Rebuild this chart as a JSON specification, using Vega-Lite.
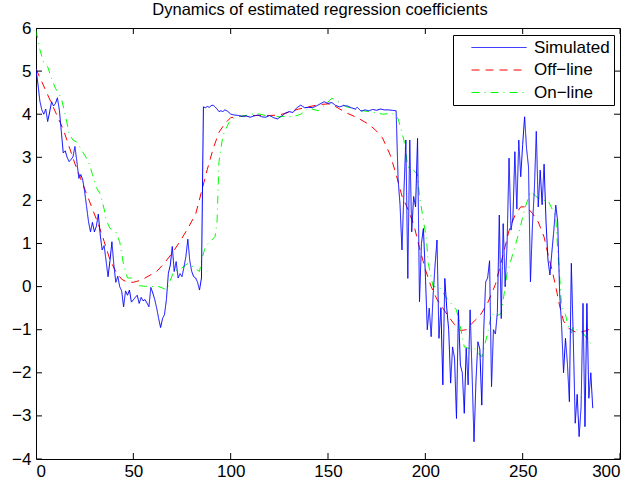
{
  "$schema": "https://vega.github.io/schema/vega-lite/v6.json",
  "width": 584,
  "height": 431,
  "autosize": "none",
  "padding": {"left": 36, "top": 28, "right": 17, "bottom": 30},
  "background": "white",
  "config": {
    "view": {"stroke": "black", "strokeWidth": 1},
    "font": "Liberation Sans",
    "axis": {"grid": false, "domain": false, "ticks": false, "labelColor": "black", "labelFontSize": 17, "labelFont": "Liberation Sans", "title": null}
  },
  "title": {"text": "Dynamics of estimated regression coefficients", "fontSize": 16.5, "fontWeight": "normal", "anchor": "middle", "offset": 1, "dx": -8, "color": "black", "font": "Liberation Sans"},
  "datasets": {
    "xt": [{"v":0},{"v":50},{"v":100},{"v":150},{"v":200},{"v":250},{"v":300}],
    "yt": [{"v":-4},{"v":-3},{"v":-2},{"v":-1},{"v":0},{"v":1},{"v":2},{"v":3},{"v":4},{"v":5},{"v":6}],
    "sim": [
      {"x":0,"y":5.05},{"x":1,"y":4.7},{"x":2,"y":4.3},{"x":3,"y":4.1},{"x":4,"y":4.0},{"x":5,"y":4.12},{"x":6,"y":3.83},{"x":7,"y":4.05},{"x":8,"y":4.29},{"x":9,"y":4.19},
      {"x":10,"y":4.25},{"x":11,"y":4.38},{"x":12,"y":4.1},{"x":13,"y":3.6},{"x":14,"y":3.1},{"x":15,"y":3.15},{"x":16,"y":3.0},{"x":17,"y":2.9},{"x":18,"y":2.95},{"x":19,"y":3.01},
      {"x":20,"y":3.25},{"x":21,"y":2.9},{"x":22,"y":2.51},{"x":23,"y":2.6},{"x":24,"y":2.48},{"x":25,"y":2.2},{"x":26,"y":1.85},{"x":27,"y":1.5},{"x":28,"y":1.27},{"x":29,"y":1.49},
      {"x":30,"y":1.27},{"x":31,"y":1.4},{"x":32,"y":1.68},{"x":33,"y":1.2},{"x":34,"y":0.85},{"x":35,"y":0.95},{"x":36,"y":0.6},{"x":37,"y":0.23},{"x":38,"y":0.6},{"x":39,"y":1.04},
      {"x":40,"y":0.5},{"x":41,"y":0.1},{"x":42,"y":0.24},{"x":43,"y":0.0},{"x":44,"y":-0.1},{"x":45,"y":-0.47},{"x":46,"y":-0.1},{"x":47,"y":-0.2},{"x":48,"y":-0.08},{"x":49,"y":-0.36},
      {"x":50,"y":-0.31},{"x":51,"y":-0.25},{"x":52,"y":-0.2},{"x":53,"y":-0.39},{"x":54,"y":-0.25},{"x":55,"y":-0.33},{"x":56,"y":-0.3},{"x":57,"y":-0.38},{"x":58,"y":-0.47},{"x":59,"y":-0.02},
      {"x":60,"y":-0.15},{"x":61,"y":-0.3},{"x":62,"y":-0.5},{"x":63,"y":-0.74},{"x":64,"y":-0.95},{"x":65,"y":-0.74},{"x":66,"y":-0.65},{"x":67,"y":-0.3},{"x":68,"y":0.31},{"x":69,"y":0.5},
      {"x":70,"y":0.93},{"x":71,"y":0.35},{"x":72,"y":0.58},{"x":73,"y":0.2},{"x":74,"y":0.3},{"x":75,"y":0.23},{"x":76,"y":0.45},{"x":77,"y":0.7},{"x":78,"y":1.1},{"x":79,"y":0.6},
      {"x":80,"y":0.35},{"x":81,"y":0.23},{"x":82,"y":0.2},{"x":83,"y":0.1},{"x":84,"y":-0.08},{"x":85,"y":0.2},{"x":86,"y":4.17},{"x":87,"y":4.15},{"x":88,"y":4.18},{"x":89,"y":4.16},
      {"x":90,"y":4.2},{"x":91,"y":4.21},{"x":92,"y":4.17},{"x":93,"y":4.12},{"x":94,"y":4.06},{"x":95,"y":4.08},{"x":96,"y":4.06},{"x":97,"y":4.1},{"x":98,"y":4.08},{"x":99,"y":4.05},
      {"x":100,"y":4.0},{"x":102,"y":3.98},{"x":104,"y":3.97},{"x":106,"y":3.95},{"x":108,"y":3.96},{"x":110,"y":3.93},{"x":112,"y":3.96},{"x":114,"y":3.98},{"x":116,"y":3.94},{"x":118,"y":3.93},
      {"x":120,"y":3.97},{"x":122,"y":3.92},{"x":124,"y":3.89},{"x":126,"y":3.95},{"x":128,"y":4.02},{"x":130,"y":4.06},{"x":132,"y":4.04},{"x":134,"y":4.15},{"x":136,"y":4.21},{"x":138,"y":4.15},
      {"x":140,"y":4.16},{"x":142,"y":4.15},{"x":144,"y":4.19},{"x":146,"y":4.24},{"x":148,"y":4.29},{"x":150,"y":4.25},{"x":152,"y":4.27},{"x":154,"y":4.2},{"x":156,"y":4.17},{"x":158,"y":4.2},
      {"x":160,"y":4.19},{"x":162,"y":4.15},{"x":164,"y":4.12},{"x":165,"y":4.16},{"x":167,"y":4.07},{"x":169,"y":4.1},{"x":171,"y":4.08},{"x":173,"y":4.11},{"x":175,"y":4.09},{"x":177,"y":4.12},
      {"x":179,"y":4.1},{"x":181,"y":4.1},{"x":183,"y":4.09},{"x":185,"y":4.08},{"x":186,"y":2.5},{"x":187,"y":1.9},{"x":188,"y":0.85},{"x":189,"y":2.2},{"x":190,"y":3.4},{"x":191,"y":0.19},
      {"x":192,"y":3.4},{"x":193,"y":1.27},{"x":194,"y":2.09},{"x":195,"y":1.85},{"x":196,"y":3.44},{"x":197,"y":-0.35},{"x":198,"y":1.0},{"x":199,"y":1.35},{"x":200,"y":0.3},{"x":201,"y":-1.0},
      {"x":202,"y":-0.5},{"x":203,"y":-1.16},{"x":204,"y":-0.2},{"x":205,"y":0.5},{"x":206,"y":1.08},{"x":207,"y":-1.2},{"x":208,"y":-0.49},{"x":209,"y":-2.28},{"x":210,"y":0.19},{"x":211,"y":-0.5},
      {"x":212,"y":-1.0},{"x":213,"y":-2.24},{"x":214,"y":-1.4},{"x":215,"y":-1.66},{"x":216,"y":-3.06},{"x":217,"y":-0.54},{"x":218,"y":-1.82},{"x":219,"y":-2.0},{"x":220,"y":-2.94},{"x":221,"y":-1.43},
      {"x":222,"y":-2.28},{"x":223,"y":-0.54},{"x":224,"y":-2.0},{"x":225,"y":-3.6},{"x":226,"y":-2.2},{"x":227,"y":-1.28},{"x":228,"y":-1.45},{"x":229,"y":-2.75},{"x":230,"y":-1.0},{"x":231,"y":0.11},
      {"x":232,"y":0.2},{"x":233,"y":0.6},{"x":234,"y":-2.32},{"x":235,"y":-1.0},{"x":236,"y":-1.1},{"x":237,"y":-0.6},{"x":238,"y":1.66},{"x":239,"y":-0.74},{"x":240,"y":1.46},{"x":241,"y":0.0},
      {"x":242,"y":1.0},{"x":243,"y":2.98},{"x":244,"y":1.31},{"x":245,"y":1.6},{"x":246,"y":3.13},{"x":247,"y":1.8},{"x":248,"y":3.4},{"x":249,"y":2.55},{"x":250,"y":3.3},{"x":251,"y":3.94},
      {"x":252,"y":3.2},{"x":253,"y":2.78},{"x":254,"y":0.11},{"x":255,"y":1.4},{"x":256,"y":2.24},{"x":257,"y":3.6},{"x":258,"y":1.85},{"x":259,"y":2.7},{"x":260,"y":1.9},{"x":261,"y":2.84},
      {"x":262,"y":1.5},{"x":263,"y":0.62},{"x":264,"y":0.27},{"x":265,"y":0.8},{"x":266,"y":1.3},{"x":267,"y":1.89},{"x":268,"y":1.5},{"x":269,"y":-0.16},{"x":270,"y":-0.9},{"x":271,"y":-2.0},
      {"x":272,"y":-1.2},{"x":273,"y":-1.8},{"x":274,"y":-2.67},{"x":275,"y":0.54},{"x":276,"y":-1.2},{"x":277,"y":-3.17},{"x":278,"y":-2.5},{"x":279,"y":-3.48},{"x":280,"y":-2.8},{"x":281,"y":-0.39},
      {"x":282,"y":-3.25},{"x":283,"y":-0.39},{"x":284,"y":-2.59},{"x":285,"y":-2.0},{"x":286,"y":-2.82}
    ],
    "off": [
      {"x":0,"y":5.05},{"x":2,"y":4.85},{"x":5,"y":4.55},{"x":8,"y":4.25},{"x":11,"y":3.95},{"x":14,"y":3.65},{"x":17,"y":3.25},{"x":20,"y":2.85},{"x":23,"y":2.5},{"x":26,"y":2.15},
      {"x":29,"y":1.8},{"x":32,"y":1.45},{"x":35,"y":1.05},{"x":38,"y":0.62},{"x":41,"y":0.35},{"x":44,"y":0.17},{"x":47,"y":0.1},{"x":50,"y":0.1},{"x":54,"y":0.15},{"x":58,"y":0.25},
      {"x":62,"y":0.35},{"x":66,"y":0.55},{"x":70,"y":0.78},{"x":74,"y":1.05},{"x":78,"y":1.35},{"x":82,"y":1.68},{"x":85,"y":2.2},{"x":88,"y":2.72},{"x":91,"y":3.2},{"x":94,"y":3.58},
      {"x":97,"y":3.78},{"x":100,"y":3.92},{"x":105,"y":3.95},{"x":110,"y":3.97},{"x":115,"y":3.97},{"x":120,"y":3.97},{"x":125,"y":3.98},{"x":130,"y":4.05},{"x":135,"y":4.12},{"x":140,"y":4.17},
      {"x":145,"y":4.22},{"x":150,"y":4.24},{"x":153,"y":4.2},{"x":156,"y":4.12},{"x":160,"y":4.02},{"x":165,"y":3.92},{"x":170,"y":3.79},{"x":174,"y":3.65},{"x":178,"y":3.45},{"x":182,"y":3.05},
      {"x":185,"y":2.6},{"x":188,"y":2.1},{"x":191,"y":1.8},{"x":194,"y":1.45},{"x":197,"y":0.9},{"x":200,"y":0.4},{"x":203,"y":0.0},{"x":206,"y":-0.3},{"x":209,"y":-0.5},{"x":212,"y":-0.7},
      {"x":215,"y":-0.88},{"x":218,"y":-1.02},{"x":221,"y":-1.0},{"x":224,"y":-0.85},{"x":228,"y":-0.68},{"x":232,"y":-0.38},{"x":236,"y":0.05},{"x":240,"y":0.75},{"x":243,"y":1.3},{"x":246,"y":1.65},
      {"x":249,"y":1.85},{"x":252,"y":1.85},{"x":255,"y":1.7},{"x":258,"y":1.5},{"x":261,"y":1.15},{"x":263,"y":0.75},{"x":265,"y":0.4},{"x":267,"y":0.0},{"x":269,"y":-0.45},{"x":271,"y":-0.8},
      {"x":274,"y":-0.98},{"x":277,"y":-1.05},{"x":280,"y":-1.05},{"x":283,"y":-1.02},{"x":286,"y":-0.95}
    ],
    "on": [
      {"x":0,"y":5.95},{"x":2,"y":5.5},{"x":4,"y":5.18},{"x":6,"y":5.1},{"x":8,"y":4.83},{"x":10,"y":4.6},{"x":12,"y":4.45},{"x":13,"y":4.37},{"x":15,"y":4.0},{"x":17,"y":3.55},
      {"x":19,"y":3.4},{"x":21,"y":3.35},{"x":23,"y":3.2},{"x":25,"y":3.05},{"x":27,"y":2.9},{"x":29,"y":2.6},{"x":31,"y":2.3},{"x":33,"y":2.15},{"x":35,"y":1.8},{"x":36,"y":1.55},
      {"x":38,"y":1.35},{"x":41,"y":1.27},{"x":43,"y":1.04},{"x":45,"y":0.5},{"x":47,"y":0.2},{"x":50,"y":0.2},{"x":53,"y":0.02},{"x":58,"y":0.0},{"x":63,"y":0.0},{"x":66,"y":-0.05},
      {"x":67,"y":-0.08},{"x":69,"y":0.15},{"x":71,"y":0.37},{"x":74,"y":0.4},{"x":78,"y":0.54},{"x":81,"y":0.45},{"x":84,"y":0.35},{"x":85,"y":0.6},{"x":87,"y":0.93},{"x":92,"y":1.16},
      {"x":93,"y":1.5},{"x":94,"y":2.9},{"x":96,"y":3.5},{"x":99,"y":3.8},{"x":101,"y":3.9},{"x":105,"y":3.95},{"x":109,"y":3.98},{"x":113,"y":4.02},{"x":118,"y":3.97},{"x":123,"y":3.94},
      {"x":128,"y":3.95},{"x":132,"y":3.94},{"x":136,"y":4.0},{"x":140,"y":4.14},{"x":145,"y":4.08},{"x":148,"y":4.2},{"x":152,"y":4.37},{"x":155,"y":4.3},{"x":159,"y":4.18},{"x":164,"y":4.11},
      {"x":168,"y":4.08},{"x":174,"y":4.04},{"x":178,"y":4.0},{"x":183,"y":4.02},{"x":186,"y":3.9},{"x":189,"y":3.4},{"x":191,"y":2.78},{"x":194,"y":2.7},{"x":196,"y":2.6},{"x":197,"y":2.09},
      {"x":199,"y":1.55},{"x":200.6,"y":1.08},{"x":201.5,"y":0.54},{"x":204,"y":0.0},{"x":207,"y":0.0},{"x":211,"y":-0.27},{"x":216,"y":-0.54},{"x":218,"y":-0.93},{"x":220,"y":-1.4},{"x":222,"y":-1.43},
      {"x":225,"y":-1.43},{"x":229,"y":-1.63},{"x":232,"y":-1.08},{"x":234,"y":-0.62},{"x":236,"y":-0.7},{"x":239,"y":-0.62},{"x":242,"y":0.3},{"x":245,"y":0.77},{"x":248,"y":1.24},{"x":251,"y":1.8},
      {"x":254,"y":2.2},{"x":256,"y":2.13},{"x":258,"y":2.05},{"x":261,"y":2.0},{"x":263,"y":2.0},{"x":267,"y":1.62},{"x":268,"y":0.85},{"x":269,"y":0.23},{"x":270,"y":-0.47},{"x":272,"y":-0.65},
      {"x":273,"y":-0.85},{"x":275,"y":-1.08},{"x":276,"y":-0.93},{"x":278,"y":-1.01},{"x":281,"y":-1.08},{"x":283,"y":-1.2},{"x":285,"y":-1.32}
    ]
  },
  "data": {"name": "sim"},
  "layer": [
    {
      "data": {"name": "off"},
      "transform": [{"calculate": "'Off−line'", "as": "s"}],
      "mark": {"type": "line", "strokeWidth": 1, "clip": true},
      "encoding": {
        "x": {"field": "x", "type": "quantitative", "scale": {"domain": [0, 300], "nice": false}, "axis": {"orient": "bottom", "values": [0, 50, 100, 150, 200, 250, 300], "labelPadding": 4}},
        "y": {"field": "y", "type": "quantitative", "scale": {"domain": [-4, 6], "nice": false}, "axis": {"orient": "left", "values": [-4, -3, -2, -1, 0, 1, 2, 3, 4, 5, 6], "labelPadding": 5}},
        "color": {"field": "s", "type": "nominal", "scale": {"domain": ["Simulated", "Off−line", "On−line"], "range": ["#0000ff", "#ff0000", "#00ff00"]},
          "legend": {"title": null, "orient": "none", "legendX": 417, "legendY": 7, "strokeColor": "black", "fillColor": "white", "padding": 4, "symbolOffset": 11, "symbolType": "M-1,0L10,0", "symbolSize": 100, "symbolStrokeWidth": 1, "labelFontSize": 17, "labelFont": "Liberation Sans", "labelColor": "black", "rowPadding": 4.5, "labelOffset": 49,
            "encode": {"symbols": {"update": {"stroke": {"scale": "color", "field": "value"}, "strokeDash": {"scale": "strokeDash", "field": "value"}}}}}},
        "strokeDash": {"field": "s", "type": "nominal", "scale": {"domain": ["Simulated", "Off−line", "On−line"], "range": [[1, 0], [8, 6], [8, 5, 1, 5]]}, "legend": null}
      }
    },
    {
      "data": {"name": "on"},
      "transform": [{"calculate": "'On−line'", "as": "s"}],
      "mark": {"type": "line", "strokeWidth": 1, "clip": true},
      "encoding": {
        "x": {"field": "x", "type": "quantitative", "axis": null},
        "y": {"field": "y", "type": "quantitative", "axis": null},
        "color": {"field": "s", "type": "nominal"},
        "strokeDash": {"field": "s", "type": "nominal", "legend": null}
      }
    },
    {
      "data": {"name": "sim"},
      "transform": [{"calculate": "'Simulated'", "as": "s"}],
      "mark": {"type": "line", "strokeWidth": 1, "clip": true},
      "encoding": {
        "x": {"field": "x", "type": "quantitative", "axis": null},
        "y": {"field": "y", "type": "quantitative", "axis": null},
        "color": {"field": "s", "type": "nominal"},
        "strokeDash": {"field": "s", "type": "nominal", "legend": null}
      }
    },
    {
      "data": {"name": "xt"},
      "mark": {"type": "tick", "orient": "vertical", "size": 12, "thickness": 1, "color": "black", "opacity": 1, "clip": true},
      "encoding": {
        "x": {"field": "v", "type": "quantitative", "axis": null},
        "y": {"datum": -4, "type": "quantitative", "axis": null}
      }
    },
    {
      "data": {"name": "xt"},
      "mark": {"type": "tick", "orient": "vertical", "size": 12, "thickness": 1, "color": "black", "opacity": 1, "clip": true},
      "encoding": {
        "x": {"field": "v", "type": "quantitative", "axis": null},
        "y": {"datum": 6, "type": "quantitative", "axis": null}
      }
    },
    {
      "data": {"name": "yt"},
      "mark": {"type": "tick", "orient": "horizontal", "size": 12, "thickness": 1, "color": "black", "opacity": 1, "clip": true},
      "encoding": {
        "y": {"field": "v", "type": "quantitative", "axis": null},
        "x": {"datum": 0, "type": "quantitative", "axis": null}
      }
    },
    {
      "data": {"name": "yt"},
      "mark": {"type": "tick", "orient": "horizontal", "size": 12, "thickness": 1, "color": "black", "opacity": 1, "clip": true},
      "encoding": {
        "y": {"field": "v", "type": "quantitative", "axis": null},
        "x": {"datum": 300, "type": "quantitative", "axis": null}
      }
    }
  ],
  "resolve": {"axis": {"x": "independent", "y": "independent"}}
}
